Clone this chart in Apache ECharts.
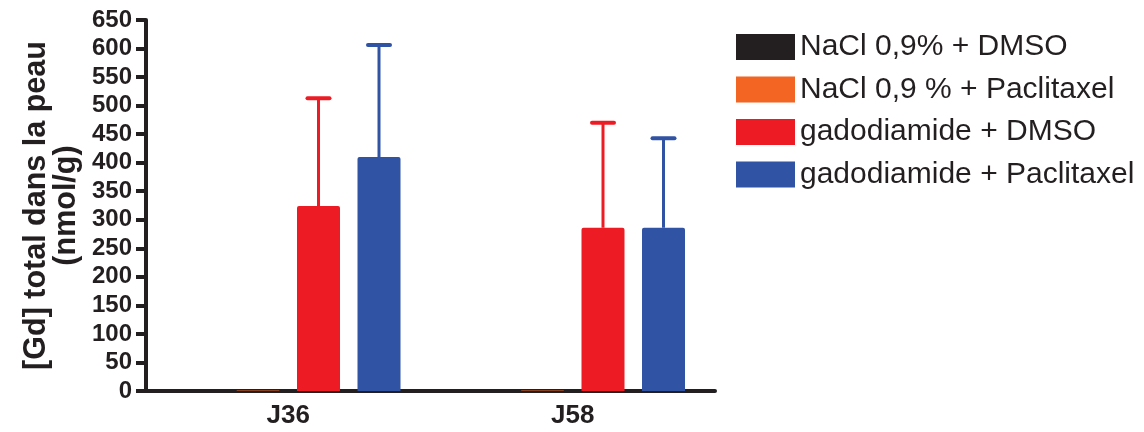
<!DOCTYPE html>
<html><head><meta charset="utf-8">
<script src="https://cdn.jsdelivr.net/npm/echarts@6/dist/echarts.min.js"></script>
<style>html,body{margin:0;padding:0;background:#fff}#c{width:1144px;height:432px}</style>
</head><body><div id="c"></div>
<script>
const categories = ['J36', 'J58'];
const seriesNames = ['NaCl 0,9% + DMSO', 'NaCl 0,9 % + Paclitaxel', 'gadodiamide + DMSO', 'gadodiamide + Paclitaxel'];
const colors = ['#231f20', '#f26522', '#ed1c24', '#3053a4'];
const naclDmso = [1, 1];
const naclPacli = [1, 1];
const gadoDmso = [324, 286];
const gadoPacli = [410, 286];
const gadoDmsoTop = [513, 470];
const gadoPacliTop = [606, 443];
const yTicks = [0, 650, 50];

const values = [naclDmso, naclPacli, gadoDmso, gadoPacli];
const tops = [null, null, gadoDmsoTop, gadoPacliTop];
const BW = 43, GAP = 17.5;
const FONT = '"Liberation Sans", Arial, sans-serif';

const series = [];
values.forEach((v, i) => {
  series.push({
    name: seriesNames[i], type: 'bar', data: v, barWidth: BW, barGap: (GAP / BW * 100) + '%',
    itemStyle: { color: colors[i], borderRadius: [2, 2, 0, 0] }, z: 2
  });
});
tops.forEach((t, i) => {
  if (!t) return;
  const d = categories.map((c, k) => [k, values[i][k], t[k]]);
  series.push({
    type: 'custom', name: seriesNames[i] + ' err', data: d, z: 1, silent: true,
    renderItem: (params, api) => {
      const off = (i - 1.5) * (BW + GAP);
      const p0 = api.coord([api.value(0), api.value(1)]);
      const p1 = api.coord([api.value(0), api.value(2)]);
      const x = p0[0] + off;
      return { type: 'group', children: [
        { type: 'line', shape: { x1: x, y1: p0[1], x2: x, y2: p1[1] }, style: { stroke: colors[i], lineWidth: 3 } },
        { type: 'line', shape: { x1: x - 11, y1: p1[1], x2: x + 11, y2: p1[1] }, style: { stroke: colors[i], lineWidth: 4, lineCap: 'round' } }
      ]};
    }
  });
});

const chart = echarts.init(document.getElementById('c'), null, { renderer: 'canvas' });
chart.setOption({
  animation: false,
  backgroundColor: '#fff',
  grid: { left: 146, right: 429, top: 20, bottom: 41, containLabel: false, outerBoundsMode: 'none' },
  legend: {
    data: seriesNames, orient: 'vertical', left: 736, top: 32, padding: 0,
    itemWidth: 59, itemHeight: 26, itemGap: 12.5, icon: 'rect',
    textStyle: { fontFamily: FONT, fontSize: 30, color: '#231f20', lineHeight: 30 }
  },
  xAxis: {
    type: 'category', data: categories, boundaryGap: true,
    axisLine: { lineStyle: { color: '#231f20', width: 4 } },
    axisTick: { alignWithLabel: true, length: 8, lineStyle: { color: '#231f20', width: 4 } },
    axisLabel: { fontFamily: FONT, fontWeight: 'bold', fontSize: 26, color: '#231f20', margin: 12 }
  },
  yAxis: {
    type: 'value', min: yTicks[0], max: yTicks[1], interval: yTicks[2],
    name: '[Gd] total dans la peau\n(nmol/g)', nameLocation: 'middle', nameRotate: 90, nameGap: 64,
    nameTextStyle: { fontFamily: FONT, fontWeight: 'bold', fontSize: 30.5, color: '#231f20', lineHeight: 30 },
    axisLine: { show: true, lineStyle: { color: '#231f20', width: 4 } },
    axisTick: { show: true, length: 10, lineStyle: { color: '#231f20', width: 4 } },
    axisLabel: { fontFamily: FONT, fontWeight: 'bold', fontSize: 24, color: '#231f20', margin: 14 },
    splitLine: { show: false }
  },
  series: series
});
</script></body></html>
